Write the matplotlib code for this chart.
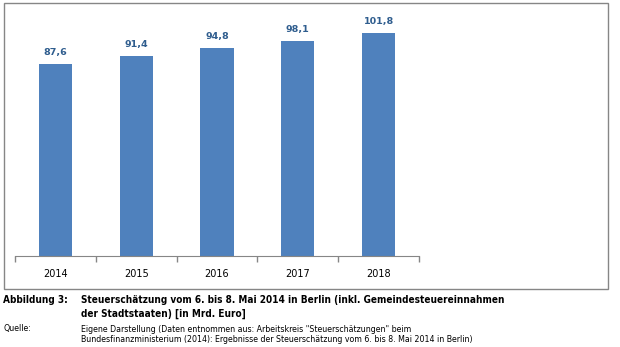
import matplotlib
matplotlib.use("Agg")
import matplotlib.pyplot as plt
from matplotlib.patches import Rectangle

years = ["2014", "2015", "2016", "2017", "2018"]
values = [87.6, 91.4, 94.8, 98.1, 101.8]
value_labels = ["87,6", "91,4", "94,8", "98,1", "101,8"]

W, H = 620, 347
fig = plt.figure(figsize=(W / 100, H / 100), dpi=100)
fig.patch.set_facecolor("white")

def fx(px):
    return px / W

def fy(py):
    return 1 - py / H

fig.patches.append(Rectangle((fx(3.5), fy(288.5)), fx(604), 286 / H, transform=fig.transFigure,
                             fill=False, edgecolor="#868686", linewidth=1.0))

ax = fig.add_axes([fx(15), fy(255.5), fx(404), (255.5 - 15) / H])
x = list(range(len(years)))
ax.bar(x, values, width=0.41, color="#4F81BD", zorder=2)
ax.set_xlim(-0.5, len(years) - 0.5)
ax.set_ylim(0, 110)
for s in ["top", "right", "left"]:
    ax.spines[s].set_visible(False)
ax.spines["bottom"].set_color("#868686")
ax.set_yticks([])
ax.set_xticks([i - 0.5 for i in range(len(years) + 1)])
ax.set_xticklabels([])
ax.tick_params(axis="x", length=4, color="#868686", width=1.0)
ax.set_xticks(x, minor=True)
ax.set_xticklabels(years, minor=True)
ax.tick_params(axis="x", which="minor", length=0, pad=10, labelsize=7.0, labelcolor="#000000")
for xi, v, lab in zip(x, values, value_labels):
    ax.annotate(lab, (xi, v), xytext=(0, 5), textcoords="offset points", ha="center", va="bottom",
                fontsize=6.8, fontweight="bold", color="#2F5D8E")

fam = "DejaVu Sans"
st = "condensed"
fig.text(fx(3), fy(300), "Abbildung 3:", fontsize=7.2, fontweight="bold", va="center", ha="left", family=fam, fontstretch=st)
fig.text(fx(81), fy(300), "Steuerschätzung vom 6. bis 8. Mai 2014 in Berlin (inkl. Gemeindesteuereinnahmen",
         fontsize=7.2, fontweight="bold", va="center", ha="left", family=fam, fontstretch=st)
fig.text(fx(81), fy(314), "der Stadtstaaten) [in Mrd. Euro]",
         fontsize=7.2, fontweight="bold", va="center", ha="left", family=fam, fontstretch=st)
fig.text(fx(3), fy(329), "Quelle:", fontsize=6.35, va="center", ha="left", family=fam, fontstretch=st)
fig.text(fx(81), fy(329), 'Eigene Darstellung (Daten entnommen aus: Arbeitskreis "Steuerschätzungen" beim',
         fontsize=6.35, va="center", ha="left", family=fam, fontstretch=st)
fig.text(fx(81), fy(339), "Bundesfinanzministerium (2014): Ergebnisse der Steuerschätzung vom 6. bis 8. Mai 2014 in Berlin)",
         fontsize=6.35, va="center", ha="left", family=fam, fontstretch=st)

fig.savefig("out.png", dpi=100)
